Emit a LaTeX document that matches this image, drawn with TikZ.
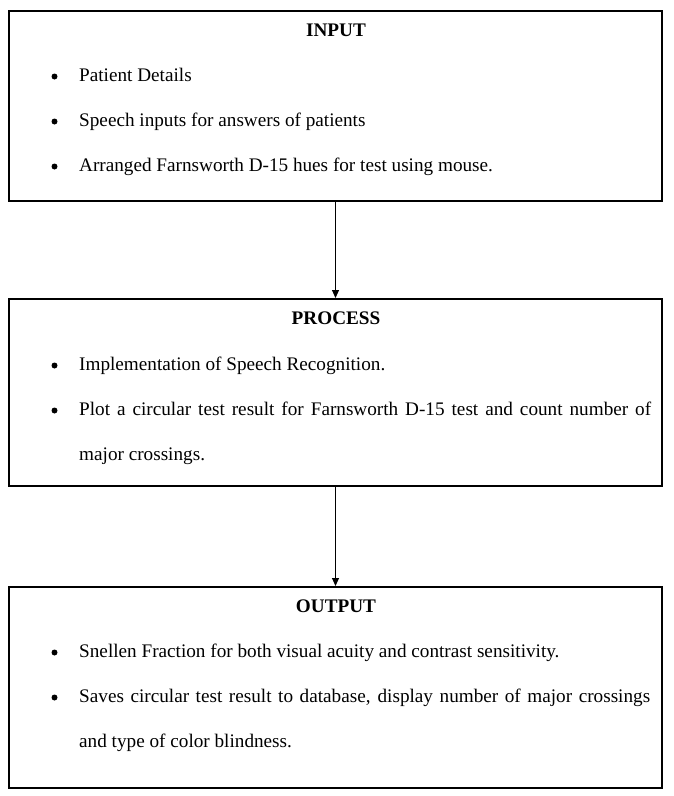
\documentclass[tikz,border=0pt]{standalone}
\usepackage{fontspec}
\setmainfont{Liberation Serif}
\usetikzlibrary{arrows.meta}
\begin{document}
\begin{tikzpicture}[x=1pt,y=-1pt,
  box/.style={draw=black,line width=2pt,rectangle,minimum width=653pt,inner sep=0pt},
  txt/.style={anchor=base west,inner sep=0pt,font=\fontsize{19.2}{22}\selectfont},
  ttl/.style={anchor=base,inner sep=0pt,font=\fontsize{19.2}{22}\selectfont\bfseries},
  bul/.style={circle,fill=black,inner sep=0pt,minimum size=6pt},
  conn/.style={line width=1pt,-{Triangle[width=7pt,length=8pt]}}]
\useasboundingbox[fill=white] (0,0) rectangle (673,796);
% boxes
\node[box,minimum height=190pt] (in) at (335.5,106) {};
\node[box,minimum height=187pt] (proc) at (335.5,392.5) {};
\node[box,minimum height=201pt] (out) at (335.5,687.5) {};
% input
\node[ttl] (t1) at (336,36.7) {INPUT};
\node[bul] (b11) at (54.5,76.5) {};
\node[txt] (l11) at (79,81.7) {Patient Details};
\node[bul] (b12) at (54.5,121.5) {};
\node[txt] (l12) at (79,126.7) {Speech inputs for answers of patients};
\node[bul] (b13) at (54.5,166.5) {};
\node[txt] (l13) at (79,171.7) {Arranged Farnsworth D-15 hues for test using mouse.};
% process
\node[ttl] (t2) at (336,324.7) {PROCESS};
\node[bul] (b21) at (54.5,365.5) {};
\node[txt] (l21) at (79,370.7) {Implementation of Speech Recognition.};
\node[bul] (b22) at (54.5,410.5) {};
\node[txt] (l22) at (79,415.7) {\makebox[572pt][s]{Plot a circular test result for Farnsworth D-15 test and count number of}};
\node[txt] (l23) at (79,460.7) {major crossings.};
% output
\node[ttl] (t3) at (336,612.7) {OUTPUT};
\node[bul] (b31) at (54.5,652.5) {};
\node[txt] (l31) at (79,657.7) {Snellen Fraction for both visual acuity and contrast sensitivity.};
\node[bul] (b32) at (54.5,697.5) {};
\node[txt] (l32) at (79,702.7) {\makebox[571pt][s]{Saves circular test result to database, display number of major crossings}};
\node[txt] (l33) at (79,747.7) {and type of color blindness.};
% connectors
\draw[conn] (in.south) -- (proc.north);
\draw[conn] (proc.south) -- (out.north);
\end{tikzpicture}
\end{document}
